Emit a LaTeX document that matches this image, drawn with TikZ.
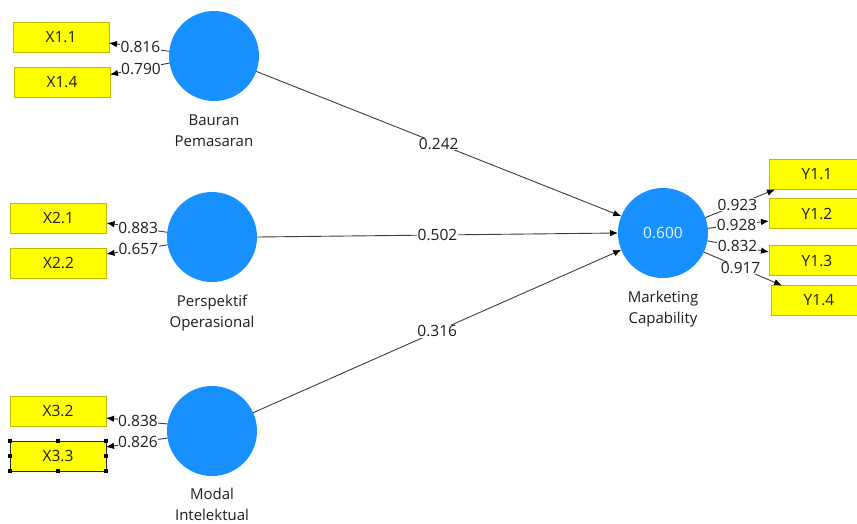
\documentclass[tikz,border=0pt]{standalone}
\usepackage{fontspec}
\setmainfont{Open Sans}
\usetikzlibrary{arrows.meta,calc}
\definecolor{lvblue}{RGB}{24,144,255}
\definecolor{boxedge}{RGB}{190,190,0}
\definecolor{boxfill}{RGB}{255,255,0}
\definecolor{linegray}{RGB}{60,60,60}
\definecolor{txt}{RGB}{30,30,30}
\begin{document}
\begin{tikzpicture}[x=1pt,y=-1pt,
  lv/.style={circle, fill=lvblue, draw=none, minimum size=90pt, inner sep=0pt, outer sep=0pt},
  ind/.style={rectangle, fill=boxfill, draw=boxedge, line width=0.8pt, minimum width=96pt, minimum height=30pt, inner sep=0pt, outer sep=0pt, font=\fontsize{15.5}{17}\selectfont, text=txt},
  lvname/.style={align=center, font=\fontsize{15}{21}\selectfont, text=txt},
  conn/.style={draw=linegray, line width=0.9pt, -{Latex[length=8pt,width=6.5pt,color=black]}},
  lab/.style={fill=white, inner sep=0.5pt, font=\fontsize{15.5}{17}\selectfont, text=txt},
]
\clip (0,0) rectangle (857,523);
% latent variables
\node[lv] (B) at (214,56) {};
\node[lv] (P) at (212,237) {};
\node[lv] (Mo) at (212,431) {};
\node[lv, text=white!90!lvblue, font=\fontsize{15.5}{17}\selectfont] (MC) at (663,233) {0.600};
% captions
\node[lvname] (Bc) at (214,131) {Bauran\\Pemasaran};
\node[lvname] (Pc) at (212,313) {Perspektif\\Operasional};
\node[lvname] (Moc) at (212,504) {Modal\\Intelektual};
\node[lvname] (MCc) at (663,309) {Marketing\\Capability};
% indicators
\node[ind] (X11) at (61,37) {X1.1};
\node[ind] (X14) at (62,82.5) {X1.4};
\node[ind] (X21) at (58.5,218) {X2.1};
\node[ind] (X22) at (58.5,263) {X2.2};
\node[ind] (X32) at (58,411) {X3.2};
\node[ind, draw=black!85] (X33) at (58,456) {X3.3};
\node[ind] (Y11) at (817,174.5) {Y1.1};
\node[ind] (Y12) at (817,213.5) {Y1.2};
\node[ind] (Y13) at (817,260.5) {Y1.3};
\node[ind] (Y14) at (819,300.5) {Y1.4};
% selection handles
\foreach \a in {north west,north,north east,east,south east,south,south west,west}
  \fill[black] ($(X33.\a)+(-2,-2)$) rectangle ++(4,4);
% outer loadings
\draw[conn] (B.174) -- node[lab,pos=0.48]{0.816} ([yshift=-6pt]X11.east);
\draw[conn] (B.189) -- node[lab,pos=0.48]{0.790} ([yshift=8pt]X14.east);
\draw[conn] (P.174) -- node[lab,pos=0.48]{0.883} ([yshift=-5pt]X21.east);
\draw[conn] (P.190) -- node[lab,pos=0.48]{0.657} ([yshift=9pt]X22.east);
\draw[conn] (Mo.171) -- node[lab,pos=0.48]{0.838} ([yshift=-7pt]X32.east);
\draw[conn] (Mo.189) -- node[lab,pos=0.48]{0.826} ([yshift=9pt]X33.east);
\draw[conn] (MC.20) -- node[lab,pos=0.46]{0.923} ([xshift=6pt]Y11.south west);
\draw[conn] (MC.6) -- node[lab,pos=0.47]{0.928} ([yshift=-7.5pt]Y12.west);
\draw[conn] (MC.-10) -- node[lab,pos=0.49]{0.832} ([yshift=8.5pt]Y13.west);
\draw[conn] (MC.-25) -- node[lab,pos=0.47]{0.917} ([xshift=11pt]Y14.north west);
% structural paths
\draw[conn] (B.-20) -- node[lab,pos=0.5]{0.242} (MC.158);
\draw[conn] (P.0) -- node[lab,pos=0.5]{0.502} (MC.180);
\draw[conn] (Mo.24) -- node[lab,pos=0.5]{0.316} (MC.202);
\end{tikzpicture}
\end{document}
